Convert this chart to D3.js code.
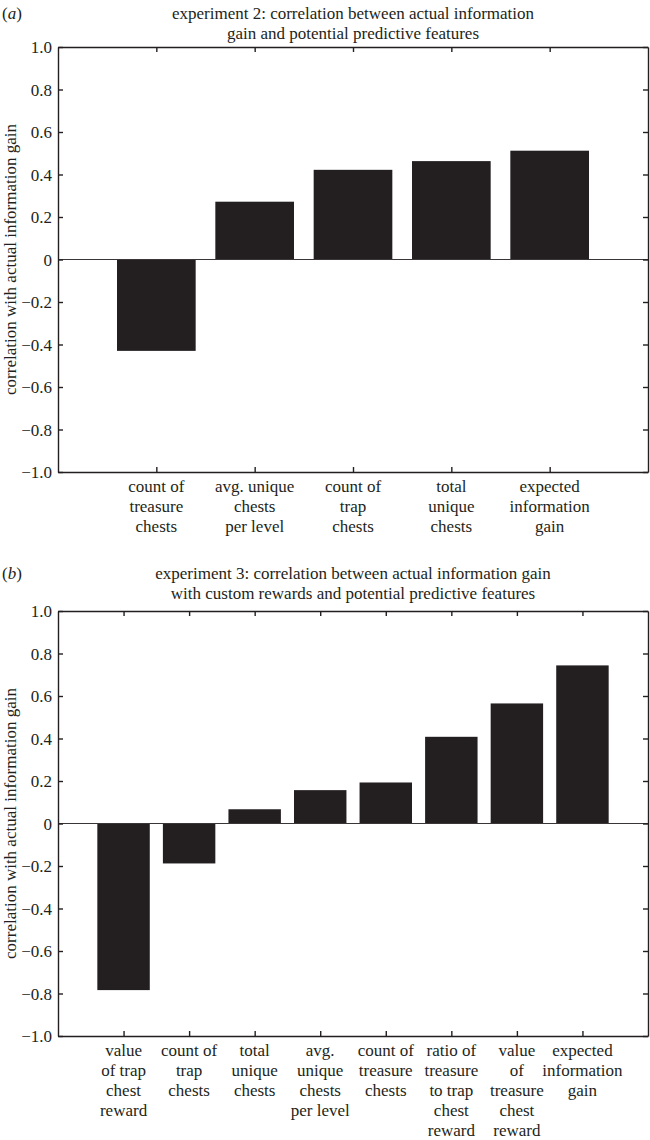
<!DOCTYPE html>
<html>
<head>
<meta charset="utf-8">
<script src="https://cdn.jsdelivr.net/npm/d3@7"></script>
<style>
  html, body { margin: 0; padding: 0; background: #fff; }
  svg { display: block; }
  svg text { font-family: "Liberation Serif", "Times New Roman", "DejaVu Serif", serif !important; fill: #231f20; }
</style>
</head>
<body>
<svg id="chart" width="650" height="1140"></svg>
<script>
// ---------- data ----------
const panelLetters = ["a", "b"];

const titleA = ["experiment 2: correlation between actual information",
                "gain and potential predictive features"];
const categoriesA = [
  ["count of", "treasure", "chests"],
  ["avg. unique", "chests", "per level"],
  ["count of", "trap", "chests"],
  ["total", "unique", "chests"],
  ["expected", "information", "gain"]
];
const valuesA = [-0.43, 0.272, 0.422, 0.463, 0.512];

const titleB = ["experiment 3: correlation between actual information gain",
                "with custom rewards and potential predictive features"];
const categoriesB = [
  ["value", "of trap", "chest", "reward"],
  ["count of", "trap", "chests"],
  ["total", "unique", "chests"],
  ["avg.", "unique", "chests", "per level"],
  ["count of", "treasure", "chests"],
  ["ratio of", "treasure", "to trap", "chest", "reward"],
  ["value", "of", "treasure", "chest", "reward"],
  ["expected", "information", "gain"]
];
const valuesB = [-0.784, -0.188, 0.067, 0.157, 0.193, 0.408, 0.565, 0.744];

const yTickValues = [-1.0, -0.8, -0.6, -0.4, -0.2, 0, 0.2, 0.4, 0.6, 0.8, 1.0];
const yTickLabels = ["\u22121.0", "\u22120.8", "\u22120.6", "\u22120.4", "\u22120.2", "0",
                     "0.2", "0.4", "0.6", "0.8", "1.0"];
const yAxisLabel = "correlation with actual information gain";

// ---------- drawing ----------
const svg = d3.select("#chart");
const ink = "#231f20";
const fontSize = 17;
const serif = "'Liberation Serif', 'Times New Roman', serif";

function drawPanel(opt) {
  const { letter, title, cats, vals, top, bottom, titleY, left, right } = opt;
  const g = svg.append("g").style("font-family", serif);
  const n = cats.length;
  const x = d3.scaleLinear().domain([0, n + 1]).range([left, right]);
  const y = d3.scaleLinear().domain([-1, 1]).range([bottom, top]);
  const idx = d3.range(1, n + 1);

  // panel letter
  const lt = g.append("text").attr("x", 2).attr("y", titleY[0])
    .attr("font-size", fontSize);
  lt.append("tspan").text("(");
  lt.append("tspan").attr("font-style", "italic").text(letter);
  lt.append("tspan").text(")");

  // title
  const cx = (left + right) / 2;
  g.selectAll(".title").data(title).enter().append("text")
    .attr("x", cx).attr("y", (d, i) => titleY[i])
    .attr("text-anchor", "middle").attr("font-size", fontSize)
    .text(d => d);

  // bars
  const bw = x(0.8) - x(0);
  g.selectAll(".bar").data(vals).enter().append("rect")
    .attr("x", (d, i) => x(i + 1) - bw / 2)
    .attr("width", bw)
    .attr("y", d => y(Math.max(0, d)))
    .attr("height", d => Math.abs(y(d) - y(0)))
    .attr("fill", ink);

  // zero line
  g.append("line").attr("x1", left).attr("x2", right)
    .attr("y1", y(0)).attr("y2", y(0))
    .attr("stroke", "#3a3637").attr("stroke-width", 1);

  // axes with inward ticks
  const tl = 5;
  const leftAxis = d3.axisLeft(y).tickValues(yTickValues)
    .tickFormat((d, i) => yTickLabels[i]).tickSizeInner(-tl).tickSizeOuter(0).tickPadding(6);
  const rightAxis = d3.axisRight(y).tickValues(yTickValues)
    .tickFormat("").tickSizeInner(-tl).tickSizeOuter(0);
  const bottomAxis = d3.axisBottom(x).tickValues(idx)
    .tickFormat("").tickSizeInner(-tl).tickSizeOuter(0);
  const topAxis = d3.axisTop(x).tickValues(idx)
    .tickFormat("").tickSizeInner(-tl).tickSizeOuter(0);

  const axes = [
    g.append("g").attr("transform", `translate(${left},0)`).call(leftAxis),
    g.append("g").attr("transform", `translate(${right},0)`).call(rightAxis),
    g.append("g").attr("transform", `translate(0,${bottom})`).call(bottomAxis),
    g.append("g").attr("transform", `translate(0,${top})`).call(topAxis)
  ];
  axes.forEach(a => {
    a.attr("font-family", null).attr("font-size", null);
    a.selectAll("path").attr("stroke", ink).attr("stroke-width", 1.4);
    a.selectAll("line").attr("stroke", ink).attr("stroke-width", 1.4);
    a.selectAll("text").style("font-family", serif)
      .attr("font-size", fontSize).attr("fill", ink);
  });
  // left tick labels: vertical centering
  axes[0].selectAll("text").attr("dy", "0.34em");

  // category labels
  const lab = g.selectAll(".cat").data(cats).enter().append("text")
    .attr("text-anchor", "middle").attr("font-size", fontSize);
  lab.each(function (lines, i) {
    d3.select(this).selectAll("tspan").data(lines).enter().append("tspan")
      .attr("x", x(i + 1))
      .attr("y", (d, j) => bottom + 20 + j * 20)
      .text(d => d);
  });

  // y axis label
  const my = (top + bottom) / 2;
  g.append("text")
    .attr("transform", `translate(16,${my}) rotate(-90)`)
    .attr("text-anchor", "middle").attr("font-size", fontSize)
    .text(yAxisLabel);
}

drawPanel({ letter: panelLetters[0], title: titleA, cats: categoriesA, vals: valuesA,
  top: 47, bottom: 472, titleY: [19, 39], left: 58, right: 648 });
drawPanel({ letter: panelLetters[1], title: titleB, cats: categoriesB, vals: valuesB,
  top: 611, bottom: 1036, titleY: [579, 599], left: 58, right: 648 });
</script>
</body>
</html>
